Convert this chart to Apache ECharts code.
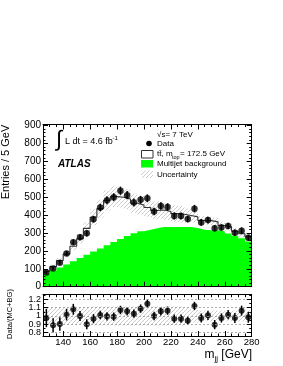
<!DOCTYPE html>
<html><head><meta charset="utf-8">
<script src="https://cdn.jsdelivr.net/npm/echarts@6/dist/echarts.min.js"></script>
<style>html,body{margin:0;padding:0;background:#fff}#c{width:283px;height:366px}</style>
</head><body><div id="c"></div>
<script>
// ---- data ----
const binLow = [125,130,135,140,145,150,155,160,165,170,175,180,185,190,195,200,205,210,215,220,225,230,235,240,245,250,255,260,265,270,275];
const dataVals = [80,102,134,186,248,276,298,377,442,483,500,536,511,470,485,494,420,451,445,395,395,378,436,359,372,326,331,339,302,313,274];
const dataErr = [9,10,12,14,16,17,17,19,21,22,22,23,23,22,22,22,21,21,21,20,20,19,21,19,19,18,18,18,17,18,17];
const mcTotal = [86,112,146,182,226,268,326,388,436,482,503,500,490,466,456,442,426,428,420,408,405,398,390,370,369,362,342,335,310,296,279];
const multijet = [72,91,107,124,142,160,178,197,214,232,250,266,283,298,310,318,327,334,333,333,334,334,328,318,316,316,310,297,284,271,252];
const uncFrac = [0.10,0.10,0.10,0.10,0.10,0.10,0.10,0.115,0.115,0.115,0.115,0.115,0.115,0.115,0.115,0.115,0.115,0.115,0.115,0.115,0.115,0.10,0.08,0.065,0.065,0.065,0.065,0.065,0.065,0.065,0.065];
const ratioVals = [0.976,0.888,0.904,1.016,1.08,1.0,0.9,0.968,1.012,0.996,0.992,1.072,1.056,1.028,1.088,1.148,1.0,1.056,1.064,0.968,0.968,0.944,1.12,0.976,1.008,0.896,0.976,1.016,0.976,1.064,0.984];
const ratioErr = [0.11,0.085,0.08,0.07,0.065,0.06,0.06,0.055,0.05,0.05,0.05,0.05,0.05,0.05,0.05,0.05,0.05,0.05,0.05,0.05,0.05,0.05,0.05,0.055,0.055,0.055,0.055,0.055,0.06,0.06,0.065];
const BIN_W = 5, X_MIN = 125, X_MAX = 280;

const FONT = '"Liberation Sans", Arial, Helvetica, sans-serif';
const GREEN = '#00ff00';

function hatchCanvas(){
  const c = document.createElement('canvas'); c.width = 4; c.height = 4;
  const g = c.getContext('2d');
  g.strokeStyle = '#b4b4b4'; g.lineWidth = 0.7;
  g.beginPath();
  g.moveTo(0,4); g.lineTo(4,0);
  g.moveTo(-1,1); g.lineTo(1,-1);
  g.moveTo(3,5); g.lineTo(5,3);
  g.stroke();
  return c;
}
const hatch = {image: hatchCanvas(), repeat: 'repeat'};

const stepPts = arr => binLow.map((x,i)=>[x, arr[i]]).concat([[X_MAX, arr[arr.length-1]]]);
const rectRender = fill => (params, api) => {
  const a = api.coord([api.value(0), api.value(3)]);
  const b = api.coord([api.value(1), api.value(2)]);
  return {type:'rect', shape:{x:a[0], y:a[1], width:b[0]-a[0], height:b[1]-a[1]}, style:{fill:fill}};
};
const errRender = (params, api) => {
  const a = api.coord([api.value(0), api.value(1)]);
  const b = api.coord([api.value(0), api.value(2)]);
  return {type:'line', shape:{x1:a[0], y1:a[1], x2:b[0], y2:b[1]}, style:{stroke:'#000', lineWidth:1.5}};
};

function xAx(grid, pos, labels){
  return {type:'value', gridIndex:grid, position:pos, min:X_MIN, max:X_MAX, splitNumber:8, z:10,
    axisLine:{show:true, onZero:false, lineStyle:{color:'#000', width:1}},
    axisTick:{show:true, inside:true, length:5, lineStyle:{color:'#000'}},
    minorTick:{show:true, splitNumber:4, length:2.5, lineStyle:{color:'#000'}},
    axisLabel:{show:labels, showMinLabel:false, showMaxLabel:true, margin:1, color:'#000', fontSize:9.5, fontFamily:FONT},
    splitLine:{show:false}};
}
function yAx(grid, pos, labels, min, max, split, minorSplit, fs, grids){
  return {type:'value', gridIndex:grid, position:pos, min:min, max:max, splitNumber:split, z:10,
    axisLine:{show:true, onZero:false, lineStyle:{color:'#000', width:1}},
    axisTick:{show:true, inside:true, length:5, lineStyle:{color:'#000'}},
    minorTick:{show:true, splitNumber:minorSplit, length:2.5, lineStyle:{color:'#000'}},
    axisLabel:{show:labels, showMinLabel:grid===0, showMaxLabel:false, margin:2, color:'#000', fontSize:fs, fontFamily:FONT},
    splitLine:{show:!!grids, lineStyle:{color:'#999', type:[2,2], width:0.8}}};
}

const option = {
  animation:false,
  backgroundColor:'#fff',
  grid:[
    {left:43, top:124.5, width:208.7, height:162.2},
    {left:43, top:294.7, width:208.7, height:41.3}
  ],
  xAxis:[xAx(0,'bottom',false), xAx(0,'top',false), xAx(1,'bottom',true), xAx(1,'top',false)],
  yAxis:[
    yAx(0,'left',true,0,906,9,5,10,false),
    yAx(0,'right',false,0,906,9,5,10,false),
    yAx(1,'left',true,0.76,1.255,5,2,9,true),
    yAx(1,'right',false,0.76,1.255,5,2,9,false)
  ],
  series:[
    {name:'Multijet background', type:'line', xAxisIndex:0, yAxisIndex:0, step:'end', symbol:'none', z:1,
      lineStyle:{width:0, color:GREEN}, itemStyle:{color:GREEN}, areaStyle:{color:GREEN, opacity:1, origin:'start'},
      data:stepPts(multijet)},
    {name:'Uncertainty', type:'custom', xAxisIndex:0, yAxisIndex:0, z:2, silent:true,
      renderItem:rectRender(hatch),
      data:binLow.map((x,i)=>[x, x+BIN_W, mcTotal[i]*(1-uncFrac[i]), mcTotal[i]*(1+uncFrac[i])])},
    {name:'tt\u0304, m_top = 172.5 GeV', type:'line', xAxisIndex:0, yAxisIndex:0, step:'end', symbol:'none', z:3,
      lineStyle:{width:1.1, color:'#333'}, itemStyle:{color:'#333'}, data:stepPts(mcTotal)},
    {name:'Data error', type:'custom', xAxisIndex:0, yAxisIndex:0, z:4, silent:true, renderItem:errRender,
      data:binLow.map((x,i)=>[x+BIN_W/2, dataVals[i]-dataErr[i], dataVals[i]+dataErr[i]])},
    {name:'Data', type:'scatter', xAxisIndex:0, yAxisIndex:0, z:5, symbol:'circle', symbolSize:6.5,
      itemStyle:{color:'#000'}, data:binLow.map((x,i)=>[x+BIN_W/2, dataVals[i]])},
    {name:'Ratio uncertainty', type:'custom', xAxisIndex:2, yAxisIndex:2, z:2, silent:true,
      renderItem:rectRender(hatch),
      data:binLow.map((x,i)=>[x, x+BIN_W, 1-uncFrac[i], 1+uncFrac[i]])},
    {name:'Ratio error', type:'custom', xAxisIndex:2, yAxisIndex:2, z:4, silent:true, renderItem:errRender,
      data:binLow.map((x,i)=>[x+BIN_W/2, ratioVals[i]-ratioErr[i], ratioVals[i]+ratioErr[i]])},
    {name:'Data/(MC+BG)', type:'scatter', xAxisIndex:2, yAxisIndex:2, z:5, symbol:'circle', symbolSize:6,
      itemStyle:{color:'#000'}, data:binLow.map((x,i)=>[x+BIN_W/2, ratioVals[i]])}
  ],
  graphic:[
    // annotations
    {type:'text', x:59, y:139.5, z:100, style:{text:'\u222B', font:'22px '+FONT, fill:'#000', align:'center', verticalAlign:'middle'}},
    {type:'text', x:65, y:142, z:100, style:{text:'L dt = 4.6 fb', font:'9px '+FONT, fill:'#000', align:'left', verticalAlign:'middle'}},
    {type:'text', x:112.5, y:138.5, z:100, style:{text:'-1', font:'6px '+FONT, fill:'#000', align:'left', verticalAlign:'middle'}},
    {type:'text', x:58, y:164, z:100, style:{text:'ATLAS', font:'italic bold 10px '+FONT, fill:'#000', align:'left', verticalAlign:'middle'}},
    // legend
    {type:'text', x:157, y:134.5, z:100, style:{text:'\u221As= 7 TeV', font:'8px '+FONT, fill:'#000', align:'left', verticalAlign:'middle'}},
    {type:'circle', z:100, shape:{cx:149, cy:143.5, r:2.8}, style:{fill:'#000'}},
    {type:'text', x:157, y:143.8, z:100, style:{text:'Data', font:'8px '+FONT, fill:'#000', align:'left', verticalAlign:'middle'}},
    {type:'rect', z:100, shape:{x:141.5, y:150.5, width:11.5, height:7.5}, style:{fill:'#fff', stroke:'#333', lineWidth:1}},
    {type:'text', x:157, y:154, z:100, style:{text:'tt\u0304, m', font:'8px '+FONT, fill:'#000', align:'left', verticalAlign:'middle'}},
    {type:'text', x:172, y:157, z:100, style:{text:'top', font:'5.5px '+FONT, fill:'#000', align:'left', verticalAlign:'middle'}},
    {type:'text', x:180, y:154, z:100, style:{text:'= 172.5 GeV', font:'8px '+FONT, fill:'#000', align:'left', verticalAlign:'middle'}},
    {type:'rect', z:100, shape:{x:141, y:160, width:12, height:7.5}, style:{fill:GREEN}},
    {type:'text', x:157, y:164, z:100, style:{text:'Multijet background', font:'8px '+FONT, fill:'#000', align:'left', verticalAlign:'middle'}},
    {type:'rect', z:100, shape:{x:141, y:170.5, width:12, height:7.5}, style:{fill:hatch}},
    {type:'text', x:157, y:174.5, z:100, style:{text:'Uncertainty', font:'8px '+FONT, fill:'#000', align:'left', verticalAlign:'middle'}},
    // axis titles
    {type:'text', x:6, y:162, rotation:Math.PI/2, z:100, style:{text:'Entries / 5 GeV', font:'11px '+FONT, fill:'#000', align:'center', verticalAlign:'middle'}},
    {type:'text', x:9.5, y:314, rotation:Math.PI/2, z:100, style:{text:'Data/(MC+BG)', font:'7.5px '+FONT, fill:'#000', align:'center', verticalAlign:'middle'}},
    {type:'text', x:252, y:355, z:100, style:{text:'[GeV]', font:'12px '+FONT, fill:'#000', align:'right', verticalAlign:'middle'}},
    {type:'text', x:218, y:358.5, z:100, style:{text:'jj', font:'8px '+FONT, fill:'#000', align:'right', verticalAlign:'middle'}},
    {type:'text', x:214.5, y:355, z:100, style:{text:'m', font:'12px '+FONT, fill:'#000', align:'right', verticalAlign:'middle'}}
  ]
};
const chart = echarts.init(document.getElementById('c'), null, {renderer:'canvas', width:283, height:366});
chart.setOption(option);
</script>
</body></html>
